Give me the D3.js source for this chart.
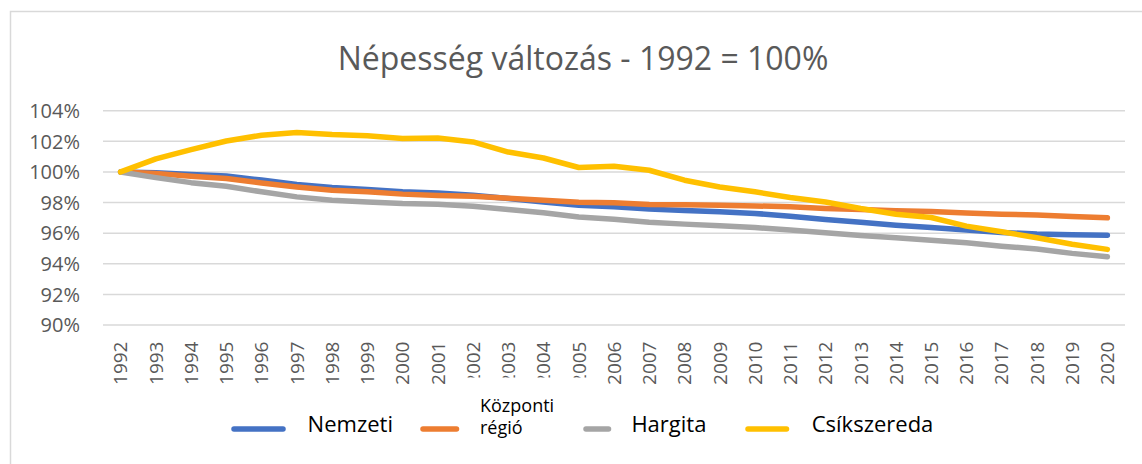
<!DOCTYPE html>
<html>
<head>
<meta charset="utf-8">
<script src="https://cdn.jsdelivr.net/npm/d3@7"></script>
<style>
  body { margin: 0; background: #fff; }
  svg { display: block; font-family: "Open Sans", sans-serif; }
</style>
</head>
<body>
<div id="chart"></div>
<script>
(function () {

    const years = ['1992', '1993', '1994', '1995', '1996', '1997', '1998', '1999', '2000', '2001',
        '2002', '2003', '2004', '2005', '2006', '2007', '2008', '2009', '2010', '2011',
        '2012', '2013', '2014', '2015', '2016', '2017', '2018', '2019', '2020']

    const nemzeti = [100, 99.95, 99.84, 99.73, 99.47, 99.18, 98.98, 98.85, 98.7, 98.63,
        98.48, 98.26, 98.04, 97.83, 97.72, 97.57, 97.48, 97.4, 97.29, 97.11,
        96.89, 96.72, 96.52, 96.37, 96.2, 96.05, 95.94, 95.89, 95.87]

    const kozponti = [100, 99.9, 99.72, 99.57, 99.28, 99.02, 98.8, 98.7, 98.55, 98.46,
        98.41, 98.28, 98.15, 98.02, 97.98, 97.87, 97.85, 97.83, 97.78, 97.72,
        97.61, 97.55, 97.46, 97.42, 97.31, 97.24, 97.18, 97.09, 97.0]

    const hargita = [100, 99.63, 99.3, 99.07, 98.7, 98.37, 98.15, 98.04, 97.93, 97.89,
        97.76, 97.54, 97.33, 97.06, 96.91, 96.72, 96.59, 96.48, 96.37, 96.2,
        96.02, 95.85, 95.7, 95.54, 95.37, 95.15, 94.96, 94.68, 94.46]

    const csikszereda = [100, 100.85, 101.46, 102.02, 102.4, 102.57, 102.44, 102.37, 102.18, 102.22,
        101.96, 101.3, 100.91, 100.29, 100.37, 100.11, 99.46, 99.02, 98.7, 98.33,
        98.04, 97.61, 97.24, 97.02, 96.46, 96.09, 95.7, 95.28, 94.94]

    const yTicks = [90, 92, 94, 96, 98, 100, 102, 104]

    const series = [
        { name: 'Nemzeti', values: nemzeti, color: '#4472C4' },
        { name: 'Központi régió', values: kozponti, color: '#ED7D31' },
        { name: 'Hargita', values: hargita, color: '#A5A5A5' },
        { name: 'Csíkszereda', values: csikszereda, color: '#FFC000' }
    ]

    const width = 1142;
    const height = 464;
    const plot = { left: 103, right: 1125, top: 110.7, bottom: 325 };

    const svg = d3.select('#chart')
        .append('svg')
        .attr('width', width)
        .attr('height', height)

    // chart frame
    svg.append('rect')
        .attr('x', 10.5)
        .attr('y', 11.5)
        .attr('width', 1200)
        .attr('height', 500)
        .attr('fill', '#fff')
        .attr('stroke', '#d9d9d9')
        .attr('stroke-width', 1.5)

    svg.append('text')
        .attr('x', 583)
        .attr('y', 70)
        .attr('text-anchor', 'middle')
        .attr('font-size', 32)
        .attr('fill', '#595959')
        .text('Népesség változás - 1992 = 100%')

    const x = d3.scaleBand()
        .domain(years)
        .range([plot.left, plot.right])

    const y = d3.scaleLinear()
        .domain([90, 104])
        .range([plot.bottom, plot.top])

    const cx = d => x(d) + x.bandwidth() / 2;

    // gridlines
    svg.append('g')
        .selectAll('line')
        .data(yTicks)
        .join('line')
        .attr('x1', plot.left)
        .attr('x2', plot.right)
        .attr('y1', d => y(d))
        .attr('y2', d => y(d))
        .attr('stroke', '#d9d9d9')
        .attr('stroke-width', 1.5)

    // y labels
    svg.append('g')
        .selectAll('text')
        .data(yTicks)
        .join('text')
        .attr('x', 80)
        .attr('y', d => y(d))
        .attr('dy', '0.36em')
        .attr('text-anchor', 'end')
        .attr('font-size', 20)
        .attr('fill', '#595959')
        .text(d => d + '%')

    // x labels, rotated
    svg.append('g')
        .selectAll('text')
        .data(years)
        .join('text')
        .attr('transform', d => `translate(${cx(d)},341.5) rotate(-90)`)
        .attr('dy', '0.36em')
        .attr('text-anchor', 'end')
        .attr('font-size', 19)
        .attr('fill', '#595959')
        .text(d => d)

    const line = d3.line()
        .x((d, i) => cx(years[i]))
        .y(d => y(d))

    svg.append('g')
        .selectAll('path')
        .data(series)
        .join('path')
        .attr('d', d => line(d.values))
        .attr('fill', 'none')
        .attr('stroke', d => d.color)
        .attr('stroke-width', 5.5)
        .attr('stroke-linecap', 'round')
        .attr('stroke-linejoin', 'round')

    // legend (the Központi entry box hides the bottom of a few year labels)
    const legend = svg.append('g')

    legend.append('rect')
        .attr('x', 461)
        .attr('y', 377.5)
        .attr('width', 134)
        .attr('height', 70)
        .attr('fill', '#fff')

    const legendItems = [
        { sx: 234, ex: 283, tx: 307.6 },
        { sx: 423, ex: 456.5, tx: 480 },
        { sx: 586, ex: 608.5, tx: 631.4 },
        { sx: 748, ex: 786.5, tx: 811.7 }
    ]

    legend.selectAll('line')
        .data(series)
        .join('line')
        .attr('x1', (d, i) => legendItems[i].sx)
        .attr('x2', (d, i) => legendItems[i].ex)
        .attr('y1', 429)
        .attr('y2', 429)
        .attr('stroke', d => d.color)
        .attr('stroke-width', 5.5)
        .attr('stroke-linecap', 'round')

    legend.selectAll('text')
        .data(series)
        .join('text')
        .attr('x', (d, i) => legendItems[i].tx)
        .attr('y', 432)
        .attr('font-size', 22)
        .attr('fill', '#000')
        .each(function (d, i) {
            const t = d3.select(this)
            if (d.name === 'Központi régió') {
                t.attr('font-size', 18).attr('y', null)
                t.append('tspan').attr('x', legendItems[i].tx).attr('y', 411.5).text('Központi')
                t.append('tspan').attr('x', legendItems[i].tx).attr('y', 434).text('régió')
            } else {
                t.text(d.name)
            }
        })

})();
</script>
</body>
</html>
